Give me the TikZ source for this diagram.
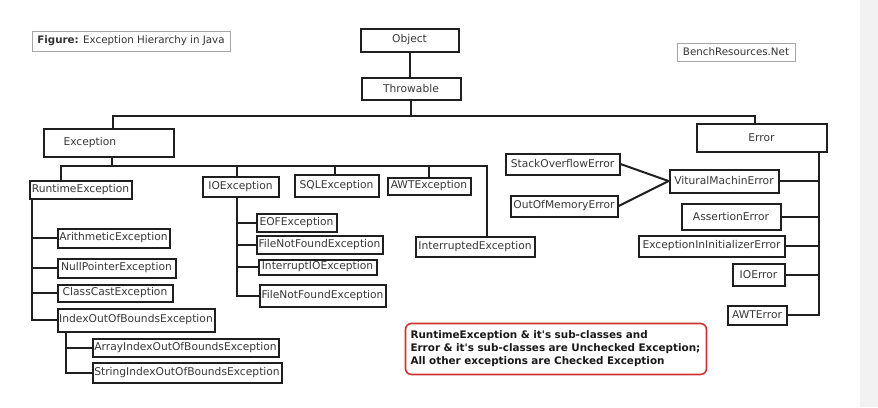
\documentclass[tikz,border=0pt]{standalone}
\usepackage{fontspec}
\setmainfont{DejaVu Sans}
\begin{document}
\begin{tikzpicture}[x=1pt,y=-1pt,
  box/.style={draw=black!88, line width=2pt, inner sep=0pt, font=\fontsize{10.7}{12}\selectfont, text=black!78},
  sz/.style 2 args={minimum width=#1pt, minimum height=#2pt},
  conn/.style={draw=black!88, line width=2pt},
  thinbox/.style={draw=black!35, line width=0.8pt, inner sep=0pt, font=\fontsize{10.3}{12}\selectfont, text=black!80},
  note/.style={draw=red!75!black!80, line width=1.6pt, rounded corners=6pt, inner sep=0pt, font=\bfseries\fontsize{10.4}{13}\selectfont, align=left, text=black!90}]
\useasboundingbox (0,0) rectangle (878,407);
\fill[white] (0,0) rectangle (878,407);
\fill[black!5] (860,0) rectangle (878,407);

% captions
\node[thinbox, sz={198}{20}] (cap) at (131,41) {\textbf{Figure:} Exception Hierarchy in Java};
\node[thinbox, sz={118}{18}] (site) at (736,52) {BenchResources.Net};

% top
\node[box, sz={98}{23}] (obj) at (409.5,40) {Object};
\node[box, sz={99}{22}] (thr) at (411,88.5) {Throwable};
\node[box, sz={130}{28}, text width=90pt, inner xsep=20pt, align=left] (exc) at (108.5,142.5) {Exception};
\node[box, sz={130}{28}] (err) at (761.5,137.5) {Error};

% exception children
\node[box, sz={102}{18}] (rt) at (80.5,189.5) {RuntimeException};
\node[box, sz={76}{20}] (ioe) at (240.5,186.5) {IOException};
\node[box, sz={84}{22}] (sql) at (336.5,185.5) {SQLException};
\node[box, sz={83}{17}] (awte) at (429,186) {AWTException};
\node[box, sz={119}{20}] (intr) at (475,246.5) {InterruptedException};

% runtime children
\node[box, sz={112}{19}] (arith) at (113.5,238) {ArithmeticException};
\node[box, sz={118}{19}] (npe) at (116.5,268) {NullPointerException};
\node[box, sz={115}{17}] (cce) at (115,293) {ClassCastException};
\node[box, sz={157}{23}] (ioob) at (136,320) {IndexOutOfBoundsException};
\node[box, sz={186}{18}] (aioob) at (185.5,347.5) {ArrayIndexOutOfBoundsException};
\node[box, sz={189}{20}] (sioob) at (187,372.5) {StringIndexOutOfBoundsException};

% io children
\node[box, sz={80}{18}] (eof) at (296.5,222.5) {EOFException};
\node[box, sz={126}{18}] (fnf) at (319.5,244.5) {FileNotFoundException};
\node[box, sz={118}{15}] (iioe) at (317.5,267) {InterruptIOException};
\node[box, sz={126}{22}] (fnf2) at (322.5,295.5) {FileNotFoundException};

% error children
\node[box, sz={114}{21}] (soe) at (562.5,164) {StackOverflowError};
\node[box, sz={107}{21}] (oom) at (564,206) {OutOfMemoryError};
\node[box, sz={109}{23}] (vme) at (724,181) {VituralMachinError};
\node[box, sz={99}{26}] (ase) at (731,216.5) {AssertionError};
\node[box, sz={146}{21}] (eiie) at (711.5,246) {ExceptionInInitializerError};
\node[box, sz={52}{22}] (ioerr) at (758.5,274.5) {IOError};
\node[box, sz={59}{19}] (awterr) at (757,315) {AWTError};

% note
\node[note, sz={301}{51}, text width=291pt, inner xsep=5pt] (nt) at (556,349)
  {RuntimeException \& it\textquotesingle s sub-classes and\\Error \& it\textquotesingle s sub-classes are Unchecked Exception;\\All other exceptions are Checked Exception};

% connectors
\coordinate (tb1) at (113,116);
\coordinate (tb2) at (755,116);
\draw[conn] (obj.south) -- (obj.south |- thr.north);
\draw[conn] (thr.south) -- (thr.south |- tb1);
\draw[conn] (exc.north -| tb1) -- (tb1) -- (tb2) -- (tb2 |- err.north);

\coordinate (eb0) at (112,166);
\coordinate (eb1) at (61,166);
\coordinate (eb2) at (487,166);
\draw[conn] (exc.south -| eb0) -- (eb0);
\draw[conn] (eb1 |- rt.north) -- (eb1) -- (eb2) -- (eb2 |- intr.north);
\draw[conn] (ioe.north -| 237,0) -- (237,166);
\draw[conn] (sql.north -| 335,0) -- (335,166);
\draw[conn] (awte.north -| 429,0) -- (429,166);

\coordinate (rb) at (32,199);
\draw[conn] (rb) |- (arith.west);
\draw[conn] (rb) |- (npe.west);
\draw[conn] (rb) |- (cce.west);
\draw[conn] (rb) |- (ioob.west);

\coordinate (ib) at (66,332);
\draw[conn] (ib) |- (aioob.west);
\draw[conn] (ib) |- (sioob.west);

\coordinate (iob) at (237,197);
\draw[conn] (iob) |- (eof.west);
\draw[conn] (iob) |- (fnf.west);
\draw[conn] (iob) |- (iioe.west);
\draw[conn] (iob) |- (fnf2.west);

\coordinate (erb) at (819,152);
\draw[conn] (erb) |- (vme.east);
\draw[conn] (erb) |- (ase.east);
\draw[conn] (erb) |- (eiie.east);
\draw[conn] (erb) |- (ioerr.east);
\draw[conn] (erb) |- (awterr.east);

\draw[conn] (soe.east) -- (vme.west);
\draw[conn] (oom.east) -- (vme.west);
\end{tikzpicture}
\end{document}
